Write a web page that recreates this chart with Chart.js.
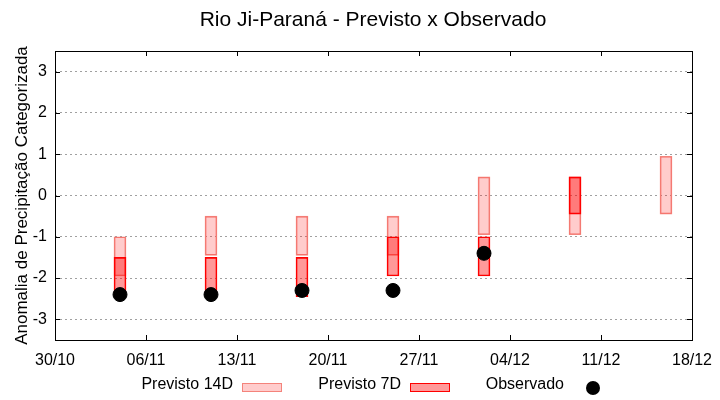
<!DOCTYPE html>
<html lang="pt">
<head>
    <meta charset="UTF-8">
    <title>Rio Ji-Paraná - Previsto x Observado</title>
    <script src="https://cdnjs.cloudflare.com/ajax/libs/Chart.js/4.4.1/chart.umd.min.js"></script>
    <style>
        body { margin: 0; background: #fff; }
        #wrap { width: 720px; height: 400px; }
    </style>
</head>
<body>
    <div id="wrap"><canvas id="chart" width="720" height="400"></canvas></div>

    <script>
        // Eixo x em dias a partir de 30/10
        const tickDays = [0, 7, 14, 21, 28, 35, 42, 49];
        const tickLabels = ['30/10', '06/11', '13/11', '20/11', '27/11', '04/12', '11/12', '18/12'];
        const yTicks = [-3, -2, -1, 0, 1, 2, 3];

        const forecastDays = [5, 12, 19, 26, 33, 40, 47];
        const prev14Top = [-1, -0.5, -0.5, -0.5, 0.45, 0.45, 0.95];
        const prev14Bottom = [-1.95, -1.45, -1.45, -1.45, -0.95, -0.95, -0.45];
        const prev7Top = [-1.5, -1.5, -1.5, -1, -1, 0.45];
        const prev7Bottom = [-2.45, -2.45, -2.45, -1.95, -1.95, -0.45];

        const observedDays = [5, 12, 19, 26, 33];
        const observed = [-2.4, -2.4, -2.3, -2.3, -1.4];

        const FONT = "'Liberation Sans', Arial, sans-serif";

        // Título, moldura com tics internos e legenda no estilo gnuplot
        const frame = {
            id: 'frame',
            afterDraw(chart) {
                const ctx = chart.ctx;
                const a = chart.chartArea;
                const xs = chart.scales.x, ys = chart.scales.y;
                ctx.save();
                ctx.strokeStyle = '#000';
                ctx.lineWidth = 1;
                ctx.strokeRect(a.left + 0.5, a.top + 0.5, a.right - a.left, a.bottom - a.top);
                ctx.beginPath();
                tickDays.forEach(d => {
                    const x = Math.round(xs.getPixelForValue(d)) + 0.5;
                    ctx.moveTo(x, a.bottom); ctx.lineTo(x, a.bottom - 5);
                    ctx.moveTo(x, a.top); ctx.lineTo(x, a.top + 5);
                });
                yTicks.forEach(v => {
                    const y = Math.round(ys.getPixelForValue(v)) + 0.5;
                    ctx.moveTo(a.left, y); ctx.lineTo(a.left + 5, y);
                    ctx.moveTo(a.right, y); ctx.lineTo(a.right - 5, y);
                });
                ctx.stroke();

                ctx.fillStyle = '#000';
                ctx.font = '21px ' + FONT;
                ctx.textAlign = 'center';
                ctx.textBaseline = 'middle';
                ctx.fillText('Rio Ji-Paraná - Previsto x Observado', 373, 20);

                // legenda
                ctx.font = '16px ' + FONT;
                ctx.textAlign = 'right';
                const ds = chart.data.datasets;
                const items = [
                    { d: ds[2], tx: 233, bx: 242 },
                    { d: ds[1], tx: 401, bx: 410 },
                    { d: ds[0], tx: 564, bx: 586 }
                ];
                items.forEach(it => {
                    ctx.fillStyle = '#000';
                    ctx.fillText(it.d.label, it.tx, 385);
                    if (it.d.type === 'scatter') {
                        ctx.beginPath();
                        ctx.arc(593, 388, 7, 0, Math.PI * 2);
                        ctx.fill();
                    } else {
                        ctx.fillStyle = '#fff';
                        ctx.fillRect(it.bx, 383, 39, 8);
                        ctx.fillStyle = it.d.backgroundColor;
                        ctx.fillRect(it.bx, 383, 39, 8);
                        ctx.strokeStyle = it.d.borderColor;
                        ctx.strokeRect(it.bx + 0.5, 383.5, 39, 8);
                    }
                });
                ctx.restore();
            }
        };

        new Chart(document.getElementById('chart'), {
            data: {
                datasets: [
                    {
                        type: 'scatter',
                        label: 'Observado',
                        data: observedDays.map((d, i) => ({ x: d, y: observed[i] })),
                        backgroundColor: '#000',
                        borderColor: '#000',
                        pointRadius: 7,
                        order: 0
                    },
                    {
                        type: 'bar',
                        label: 'Previsto 7D',
                        data: prev7Top.map((t, i) => ({ x: forecastDays[i], y: [prev7Bottom[i], t] })),
                        backgroundColor: 'rgba(255, 0, 0, 0.4)',
                        borderColor: '#ff0000',
                        borderWidth: 1,
                        borderSkipped: false,
                        barThickness: 12,
                        grouped: false,
                        order: 1
                    },
                    {
                        type: 'bar',
                        label: 'Previsto 14D',
                        data: prev14Top.map((t, i) => ({ x: forecastDays[i], y: [prev14Bottom[i], t] })),
                        backgroundColor: 'rgba(255, 0, 0, 0.2)',
                        borderColor: '#f4837b',
                        borderWidth: 1,
                        borderSkipped: false,
                        barThickness: 12,
                        grouped: false,
                        order: 2
                    }
                ]
            },
            options: {
                responsive: false,
                animation: false,
                layout: { padding: { left: 0, right: 28, top: 51, bottom: 0 } },
                scales: {
                    x: {
                        type: 'linear',
                        min: 0,
                        max: 49,
                        offset: false,
                        afterBuildTicks: s => { s.ticks = tickDays.map(v => ({ value: v })); },
                        afterFit: s => { s.height = 60; },
                        grid: { display: false },
                        border: { display: false },
                        ticks: {
                            callback: (v) => tickLabels[tickDays.indexOf(v)],
                            font: { family: FONT, size: 16 },
                            color: '#000',
                            padding: 3,
                            maxRotation: 0,
                            autoSkip: false
                        }
                    },
                    y: {
                        min: -3.5,
                        max: 3.5,
                        afterBuildTicks: s => { s.ticks = yTicks.map(v => ({ value: v })); },
                        afterFit: s => { s.width = 55; },
                        grid: {
                            color: '#a0a0a0',
                            drawTicks: false,
                            lineWidth: 1
                        },
                        border: { display: false, dash: [2, 3] },
                        ticks: {
                            font: { family: FONT, size: 16 },
                            color: '#000',
                            padding: 8
                        },
                        title: {
                            display: true,
                            text: 'Anomalia de Precipitação Categorizada',
                            font: { family: FONT, size: 17 },
                            color: '#000',
                            padding: { top: 12, bottom: 0 }
                        }
                    }
                },
                plugins: {
                    legend: { display: false },
                    tooltip: { enabled: false }
                }
            },
            plugins: [frame]
        });
    </script>
</body>
</html>
